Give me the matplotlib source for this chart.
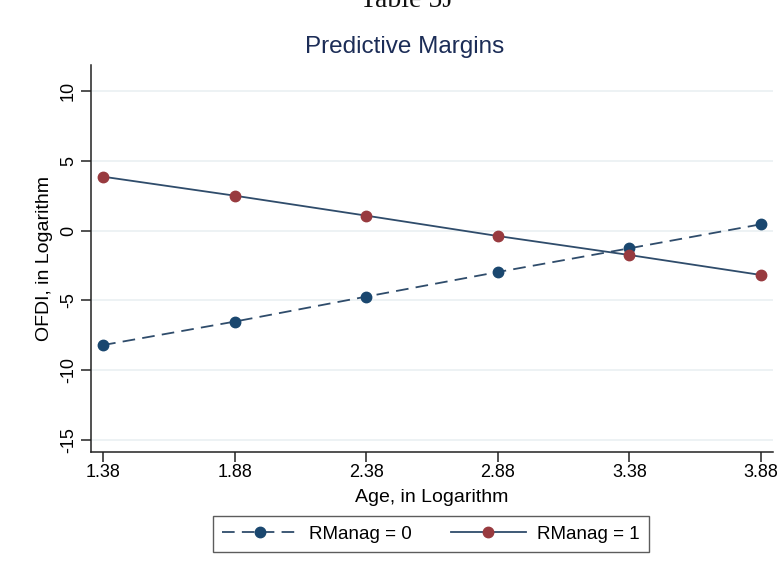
import matplotlib
matplotlib.use("Agg")
import matplotlib.pyplot as plt

# predictive margins
age = [1.38, 1.88, 2.38, 2.88, 3.38, 3.88]
rmanag0 = [-8.2, -6.52, -4.73, -2.97, -1.27, 0.45]
rmanag1 = [3.86, 2.50, 1.07, -0.39, -1.75, -3.18]
yticks = [-15, -10, -5, 0, 5, 10]

navy = "#1a476f"
maroon = "#983a3f"
linecol = "#2f4c6b"

plt.rcParams['font.family'] = ['Liberation Sans', 'DejaVu Sans']
plt.rcParams['axes.unicode_minus'] = False

fig = plt.figure(figsize=(7.79, 5.70), dpi=100)
ax = fig.add_axes([91/779, 1 - 452/570, (773 - 91)/779, (452 - 65)/570])

ax.plot(age, rmanag0, color=linecol, lw=1.3, dashes=(7, 4),
        marker='o', ms=7.5, mfc=navy, mec=navy, label="RManag = 0")
ax.plot(age, rmanag1, color=linecol, lw=1.3, ls='-',
        marker='o', ms=7.5, mfc=maroon, mec=maroon, label="RManag = 1")

ax.set_xlim(1.334, 3.926)
ax.set_ylim(-15.86, 11.86)
ax.set_xticks(age)
ax.set_xticklabels(["%.2f" % a for a in age])
ax.set_yticks(yticks)
ax.grid(axis='y', color='#eaf0f2', lw=1.2)
ax.set_axisbelow(True)

for s in ['top', 'right']:
    ax.spines[s].set_visible(False)
for s in ['left', 'bottom']:
    ax.spines[s].set_color('#222222')
    ax.spines[s].set_linewidth(1.1)

ax.tick_params(axis='both', length=7, width=1.1, color='#222222', labelsize=13)
ax.tick_params(axis='x', pad=1.5)
ax.tick_params(axis='y', pad=3)
for lab in ax.get_yticklabels():
    lab.set_rotation(90)
    lab.set_va('center')

ax.set_xlabel("Age, in Logarithm", fontsize=14, va='center')
ax.set_ylabel("OFDI, in Logarithm", fontsize=14, va='center')
ax.xaxis.set_label_coords(0.5, -0.117)
ax.yaxis.set_label_coords(-0.068, 0.5)

fig.text(0.519, 1 - 47/570, "Predictive Margins", ha='center', va='center',
         fontsize=17.5, color='#1c2d57')

# cut-off caption from the page above the chart
fig.text(0.522, 1 - 7/570, "Table 5J", ha='center', va='baseline',
         fontsize=20, family='Liberation Serif', color='#111111')

leg = fig.legend(loc='center', bbox_to_anchor=(431/779, 1 - 534/570), ncol=2,
                 fontsize=13.5, frameon=True, fancybox=False, handlelength=4.0,
                 handletextpad=0.6, columnspacing=2.1, borderpad=0.5)
leg.get_frame().set_edgecolor('#333333')
leg.get_frame().set_linewidth(1.0)

fig.savefig("out.png", dpi=100)
